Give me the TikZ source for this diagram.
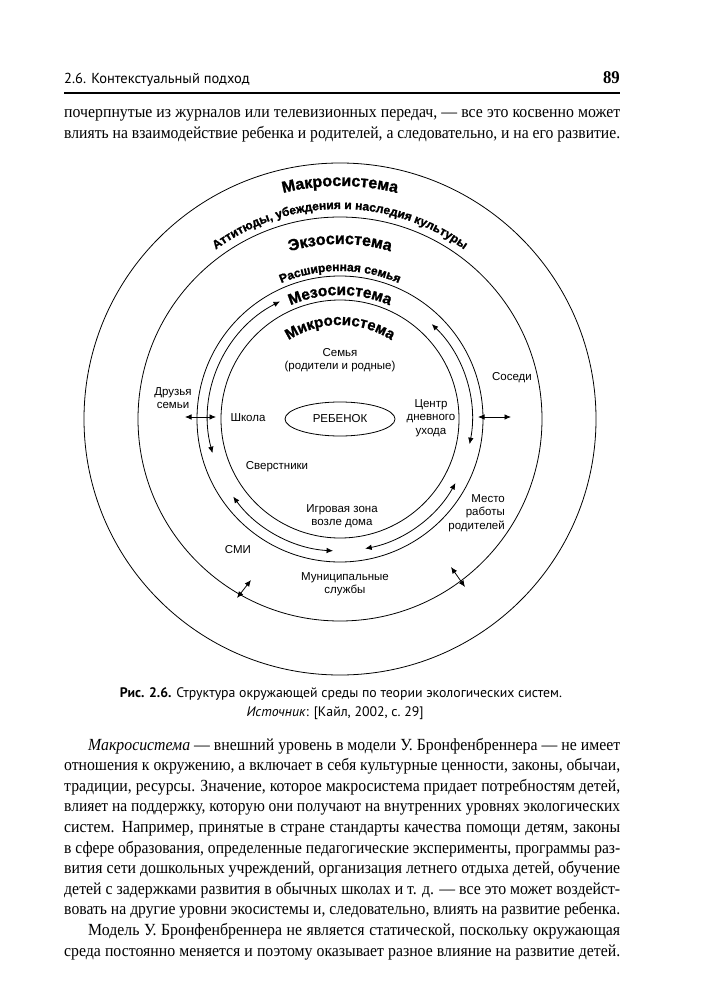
\documentclass[tikz,border=0pt]{standalone}
\usepackage{fontspec}
\setmainfont[FakeStretch=0.93]{Liberation Serif}
\setsansfont{Liberation Sans}
\newfontfamily\hdrfont{PT Sans}
\newfontfamily\heavy[FakeBold=1.3]{Liberation Sans Bold}
\usetikzlibrary{decorations.text,arrows.meta,shapes.geometric}
\newsavebox\linebox
\newcommand\jline[2]{\sbox\linebox{#2}\ifdim\wd\linebox>#1\relax\resizebox{#1}{\height}{\usebox\linebox}\else\makebox[#1][s]{#2}\fi}
\begin{document}
\begin{tikzpicture}[x=1pt,y=1pt,
  ring/.style={line width=0.8pt},
  lab/.style={font=\sffamily\fontsize{11.5}{13.5}\selectfont, align=center, inner sep=0pt},
  body/.style={font=\rmfamily\fontsize{17}{20}\selectfont, anchor=base west, inner sep=0pt},
  dbl/.style={{Latex[length=6.5pt,width=5.5pt]}-{Latex[length=6.5pt,width=5.5pt]}, line width=0.8pt},
  arctext/.style={decorate, decoration={text along path, text align=center, text={#1}}}]
\useasboundingbox (0,0) rectangle (702,-1000);
\fill[white] (0,0) rectangle (702,-1000);
% header
\node[anchor=base west, inner sep=0pt, font=\hdrfont\fontsize{14.5}{14.5}\selectfont] (hdr) at (64,-84) {2.6. Контекстуальный подход};
\node[anchor=base east, inner sep=0pt, font=\bfseries\fontsize{18}{18}\selectfont] (pg) at (620,-84) {89};
\draw[line width=1.2pt] (64,-93) -- (620,-93);
% top text
\node[body] (t1) at (64,-118) {\jline{556pt}{почерпнутые из журналов или телевизионных передач, — все это косвенно может}};
\node[body] (t2) at (64,-139) {\jline{556pt}{влиять на взаимодействие ребенка и родителей, а следовательно, и на его развитие.}};
% diagram
\coordinate (C) at (340,-419);
\draw[ring] (C) circle[radius=256];
\draw[ring] (C) circle[radius=202];
\draw[ring] (C) circle[radius=143];
\draw[ring] (C) circle[radius=119];
\node[draw, ellipse, ring, minimum width=110pt, minimum height=34pt, lab] (child) at (C) {РЕБЕНОК};
% curved titles
\path[arctext={|\heavy\fontsize{16}{16}\selectfont|Макросистема}] ([shift={(150:233)}]C) arc[start angle=150, end angle=30, radius=233];
\path[arctext={|\heavy\fontsize{12}{12}\selectfont|Аттитюды, убеждения и наследия культуры}] ([shift={(160:210)}]C) arc[start angle=160, end angle=20, radius=210];
\path[arctext={|\heavy\fontsize{16}{16}\selectfont|Экзосистема}] ([shift={(150:175)}]C) arc[start angle=150, end angle=30, radius=175];
\path[arctext={|\heavy\fontsize{12}{12}\selectfont|Расширенная семья}] ([shift={(150:148)}]C) arc[start angle=150, end angle=30, radius=148];
\path[arctext={|\heavy\fontsize{15.5}{15.5}\selectfont|Мезосистема}] ([shift={(150:124)}]C) arc[start angle=150, end angle=30, radius=124];
\path[arctext={|\heavy\fontsize{15}{15}\selectfont|Микросистема}] ([shift={(160:94)}]C) arc[start angle=160, end angle=20, radius=94];
% meso arrows
\draw[dbl] ([shift={(117:132)}]C) arc[start angle=117, end angle=195, radius=132];
\draw[dbl] ([shift={(46:132)}]C) arc[start angle=46, end angle=-11, radius=132];
\draw[dbl] ([shift={(216:132)}]C) arc[start angle=216, end angle=267, radius=132];
\draw[dbl] ([shift={(281:132)}]C) arc[start angle=281, end angle=331, radius=132];
% straight double arrows
\coordinate (fL1) at (185,-417); \coordinate (fL2) at (216,-417);
\coordinate (fR1) at (478,-417); \coordinate (fR2) at (511,-417);
\coordinate (dL1) at (237,-598); \coordinate (dL2) at (251,-580);
\coordinate (dR1) at (451,-567); \coordinate (dR2) at (465,-587);
\draw[dbl] (fL1) -- (fL2);
\draw[dbl] (fR1) -- (fR2);
\draw[dbl] (dL1) -- (dL2);
\draw[dbl] (dR1) -- (dR2);
% labels
\node[lab] (fam) at (340,-360) {Семья\\(родители и родные)};
\node[lab] (school) at (248,-418) {Школа};
\node[lab] (day) at (431,-418) {Центр\\дневного\\ухода};
\node[lab] (friends) at (173,-398) {Друзья\\семьи};
\node[lab] (neigh) at (512,-378) {Соседи};
\node[lab] (peers) at (277,-467) {Сверстники};
\node[lab] (play) at (342,-516) {Игровая зона\\возле дома};
\node[lab, align=right, anchor=east] (work) at (505,-513) {Место\\работы\\родителей};
\node[lab] (media) at (238,-550) {СМИ};
\node[lab] (mun) at (345,-584) {Муниципальные\\службы};
% caption
\node[anchor=base, inner sep=0pt, font=\hdrfont\fontsize{13.8}{16}\selectfont] (cap1) at (341,-697) {\textbf{Рис. 2.6.} Структура окружающей среды по теории экологических систем.};
\node[anchor=base, inner sep=0pt, font=\hdrfont\fontsize{13.8}{16}\selectfont] (cap2) at (335,-716) {\textit{Источник}: [Кайл, 2002, с.~29]};
% body
\node[body] (p1) at (88,-750) {\jline{532pt}{\textit{Макросистема} — внешний уровень в модели У. Бронфенбреннера — не имеет}};
\node[body] (p2) at (64,-770.6) {\jline{556pt}{отношения к окружению, а включает в себя культурные ценности, законы, обычаи,}};
\node[body] (p3) at (64,-791.2) {\jline{556pt}{традиции, ресурсы. Значение, которое макросистема придает потребностям детей,}};
\node[body] (p4) at (64,-811.8) {\jline{556pt}{влияет на поддержку, которую они получают на внутренних уровнях экологических}};
\node[body] (p5) at (64,-832.4) {\jline{556pt}{систем. Например, принятые в стране стандарты качества помощи детям, законы}};
\node[body] (p6) at (64,-853) {\jline{556pt}{в сфере образования, определенные педагогические эксперименты, программы раз-}};
\node[body] (p7) at (64,-873.6) {\jline{556pt}{вития сети дошкольных учреждений, организация летнего отдыха детей, обучение}};
\node[body] (p8) at (64,-894.2) {\jline{556pt}{детей с задержками развития в обычных школах и т. д. — все это может воздейст-}};
\node[body] (p9) at (64,-914.8) {\jline{556pt}{вовать на другие уровни экосистемы и, следовательно, влиять на развитие ребенка.}};
\node[body] (p10) at (88,-935.4) {\jline{532pt}{Модель У. Бронфенбреннера не является статической, поскольку окружающая}};
\node[body] (p11) at (64,-956) {\jline{556pt}{среда постоянно меняется и поэтому оказывает разное влияние на развитие детей.}};
\end{tikzpicture}
\end{document}
